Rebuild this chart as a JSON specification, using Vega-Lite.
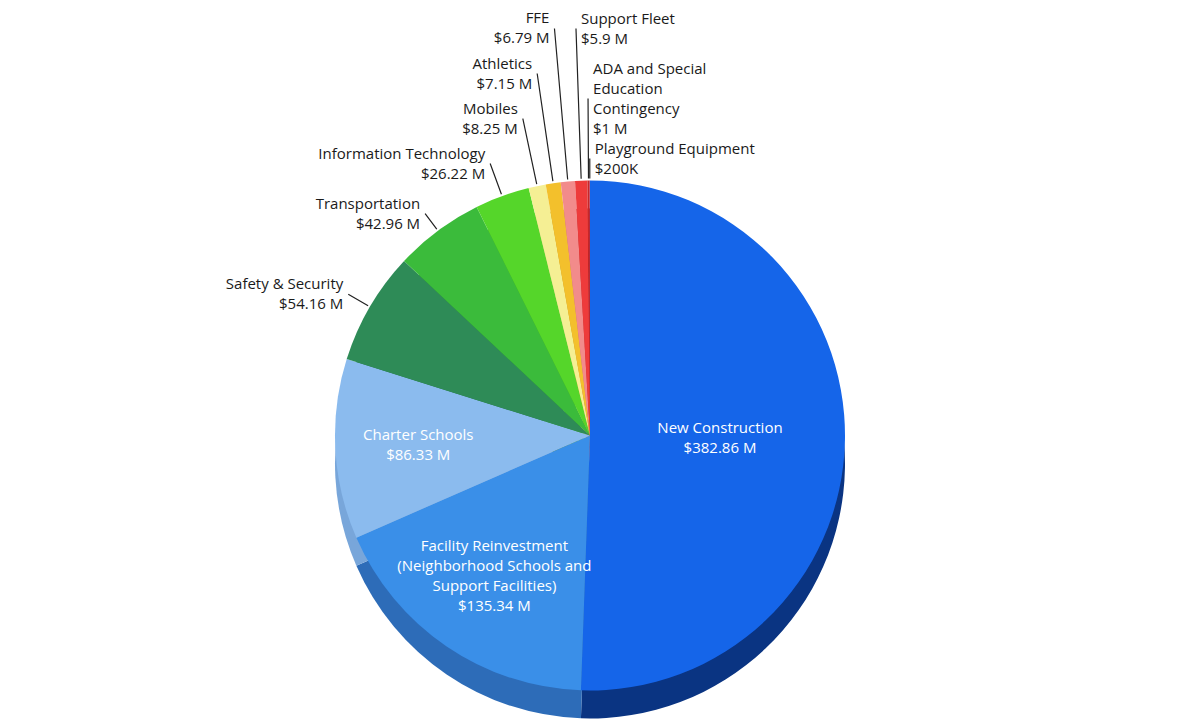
{
  "$schema": "https://vega.github.io/schema/vega-lite/v6.json",
  "width": 1180,
  "height": 571,
  "autosize": "none",
  "padding": {"left": 0, "top": 150, "right": 12, "bottom": 0},
  "background": "white",
  "config": {"view": {"stroke": null}},
  "data": {
    "values": [
      {"order": 1, "category": "New Construction", "value": 382.86, "label": "New Construction\n$382.86 M"},
      {"order": 2, "category": "Facility Reinvestment", "value": 135.34, "label": "Facility Reinvestment\n(Neighborhood Schools and\nSupport Facilities)\n$135.34 M"},
      {"order": 3, "category": "Charter Schools", "value": 86.33, "label": "Charter Schools\n$86.33 M"},
      {"order": 4, "category": "Safety & Security", "value": 54.16, "label": "Safety & Security\n$54.16 M"},
      {"order": 5, "category": "Transportation", "value": 42.96, "label": "Transportation\n$42.96 M"},
      {"order": 6, "category": "Information Technology", "value": 26.22, "label": "Information Technology\n$26.22 M"},
      {"order": 7, "category": "Mobiles", "value": 8.25, "label": "Mobiles\n$8.25 M"},
      {"order": 8, "category": "Athletics", "value": 7.15, "label": "Athletics\n$7.15 M"},
      {"order": 9, "category": "FFE", "value": 6.79, "label": "FFE\n$6.79 M"},
      {"order": 10, "category": "Support Fleet", "value": 5.9, "label": "Support Fleet\n$5.9 M"},
      {"order": 11, "category": "ADA and Special Education Contingency", "value": 1.0, "label": "ADA and Special\nEducation\nContingency\n$1 M"},
      {"order": 12, "category": "Playground Equipment", "value": 0.2, "label": "Playground Equipment\n$200K"}
    ]
  },
  "encoding": {
    "theta": {"field": "value", "type": "quantitative", "stack": true},
    "order": {"field": "order", "type": "quantitative"}
  },
  "layer": [
    {
      "mark": {"type": "arc", "radius": 255, "yOffset": 28},
      "encoding": {
        "fill": {
          "field": "category",
          "type": "nominal",
          "legend": null,
          "scale": {
            "domain": ["New Construction", "Facility Reinvestment", "Charter Schools", "Safety & Security", "Transportation", "Information Technology", "Mobiles", "Athletics", "FFE", "Support Fleet", "ADA and Special Education Contingency", "Playground Equipment"],
            "range": ["#0a3482", "#2d6cb8", "#78a6da", "#246e45", "#2e9330", "#44aa22", "#c9c377", "#c99b22", "#c47070", "#c02f2f", "#8a1f1f", "#7a1a1a"]
          }
        }
      }
    },
    {
      "mark": {"type": "arc", "radius": 255},
      "encoding": {
        "color": {
          "field": "category",
          "type": "nominal",
          "legend": null,
          "scale": {
            "domain": ["New Construction", "Facility Reinvestment", "Charter Schools", "Safety & Security", "Transportation", "Information Technology", "Mobiles", "Athletics", "FFE", "Support Fleet", "ADA and Special Education Contingency", "Playground Equipment"],
            "range": ["#1565e9", "#3a8fe8", "#8bbbee", "#2e8b57", "#3bbb3b", "#55d62a", "#f5ef94", "#f3c02c", "#f28b8b", "#ee3b3b", "#c62828", "#ad1457"]
          }
        }
      }
    },
    {
      "mark": {
        "type": "arc",
        "filled": false,
        "stroke": "#222222",
        "strokeWidth": 1.2,
        "padAngle": 3,
        "radius": 257,
        "radius2": {"expr": "[257, 257, 257, 280, 276.5, 289.7, 324, 365.8, 408.6, 407.2, 337, 277][datum.order - 1]"},
        "strokeOpacity": {"expr": "datum.order > 3 ? 1 : 0"}
      },
      "encoding": {}
    },
    {
      "mark": {
        "type": "text",
        "font": "Open Sans",
        "fontSize": 15,
        "lineHeight": 20,
        "lineBreak": "\n",
        "baseline": "middle",
        "radius": {"expr": "[130, 170, 172, 280, 276.5, 289.7, 324, 365.8, 408.6, 407.2, 337, 277][datum.order - 1]"},
        "align": {"expr": "datum.order <= 3 ? 'center' : (datum.order <= 9 ? 'right' : 'left')"},
        "dx": {"expr": "datum.order <= 3 ? 0 : (datum.order <= 9 ? -5 : 5)"},
        "dy": {"expr": "[-10, -30, -10, -10, -10, -10, -10, -10, -10, -10, -30, -10][datum.order - 1]"},
        "fill": {"expr": "datum.order <= 3 ? '#ffffff' : '#1a1a1a'"}
      },
      "encoding": {
        "text": {"field": "label", "type": "nominal"}
      }
    }
  ]
}
